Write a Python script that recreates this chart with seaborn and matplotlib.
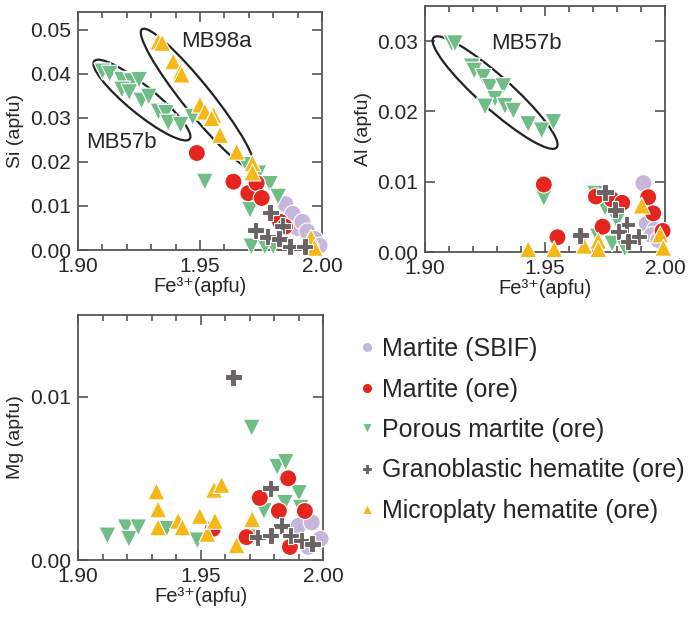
import numpy as np
import pandas as pd
import matplotlib
matplotlib.use("Agg")
import matplotlib.pyplot as plt
from matplotlib.patches import Ellipse
from matplotlib.ticker import MultipleLocator
import seaborn as sns

# ---- data (Fe3+ vs minor element, apfu) ----
kinds = ['Martite (SBIF)', 'Martite (ore)', 'Porous martite (ore)',
         'Granoblastic hematite (ore)', 'Microplaty hematite (ore)']
colors = ['#c6b6da', '#e4261f', '#70bd88', '#6b6363', '#f6b817']
marks = ['o', 'o', 'v', 'P', '^']
draw_order = [0, 2, 1, 4, 3]

# Si panel
si_fe_sbif = [1.985, 1.988, 1.990, 1.992, 1.994, 1.997, 1.999]
si_sbif = [0.0104, 0.0082, 0.0050, 0.0064, 0.0042, 0.0025, 0.0010]
si_fe_ore = [1.9487, 1.9637, 1.9698, 1.9732, 1.9753, 1.9828, 1.9848]
si_ore = [0.0220, 0.0155, 0.0129, 0.0152, 0.0118, 0.0064, 0.0053]
si_fe_por = [1.910, 1.913, 1.918, 1.922, 1.925, 1.918, 1.921, 1.926, 1.929, 1.933,
             1.936, 1.937, 1.942, 1.947, 1.952, 1.969, 1.9739, 1.9787, 1.982,
             1.9705, 1.971, 1.9766, 1.980]
si_por = [0.0405, 0.0400, 0.0386, 0.0383, 0.0386, 0.0364, 0.0358, 0.0339, 0.0348, 0.0314,
          0.0311, 0.0289, 0.0284, 0.0302, 0.0155, 0.0193, 0.0174, 0.0150, 0.0121,
          0.0091, 0.0008, 0.0008, 0.0008]
si_fe_gran = [1.9787, 1.9838, 1.9728, 1.9777, 1.9825, 1.9869, 1.9930]
si_gran = [0.0085, 0.0055, 0.0045, 0.0030, 0.0025, 0.0008, 0.0008]
si_fe_micro = [1.9329, 1.9345, 1.939, 1.9421, 1.9425, 1.950, 1.952, 1.9555, 1.9548,
               1.9582, 1.965, 1.9715, 1.9715, 1.9955, 1.997]
si_micro = [0.0473, 0.0470, 0.0428, 0.0405, 0.0398, 0.0330, 0.0314, 0.0307, 0.0299,
            0.0261, 0.0223, 0.0197, 0.0176, 0.0028, 0.0005]

# Al panel
al_fe_sbif = [1.991, 1.9924, 1.9958, 1.9945, 1.9972]
al_sbif = [0.0098, 0.0040, 0.0032, 0.0024, 0.0017]
al_fe_ore = [1.9495, 1.9552, 1.9712, 1.9740, 1.9778, 1.9822, 1.9930, 1.9951, 1.9990]
al_ore = [0.0096, 0.0021, 0.0079, 0.0036, 0.0075, 0.0070, 0.0078, 0.0055, 0.0030]
al_fe_por = [1.9111, 1.9125, 1.9195, 1.9205, 1.9243, 1.9270, 1.9326, 1.9292, 1.9250,
             1.9333, 1.9368, 1.9430, 1.9486, 1.9535, 1.9495, 1.9708, 1.9750, 1.9800,
             1.9720, 1.9833, 1.9780]
al_por = [0.0297, 0.0297, 0.0264, 0.0258, 0.0249, 0.0235, 0.0236, 0.0218, 0.0207,
          0.0208, 0.0201, 0.0182, 0.0173, 0.0185, 0.0077, 0.0083, 0.0063, 0.0044,
          0.0022, 0.0005, 0.0012]
al_fe_gran = [1.9750, 1.9792, 1.9646, 1.9840, 1.9806, 1.9889, 1.9847]
al_gran = [0.0085, 0.0060, 0.0024, 0.0039, 0.0029, 0.0022, 0.0015]
al_fe_micro = [1.943, 1.9538, 1.9663, 1.9722, 1.9722, 1.9903, 1.998, 1.9993]
al_micro = [0.0004, 0.0004, 0.0009, 0.0016, 0.0004, 0.0066, 0.0025, 0.0006]

# Mg panel
mg_fe_sbif = [1.9900, 1.9954, 1.9990, 1.9940]
mg_sbif = [0.0021, 0.0023, 0.0013, 0.0008]
mg_fe_ore = [1.9742, 1.9858, 1.9820, 1.9926, 1.9688, 1.9865, 1.9550]
mg_ore = [0.0038, 0.0050, 0.0030, 0.0030, 0.0014, 0.0008, 0.0019]
mg_fe_por = [1.9120, 1.9195, 1.9208, 1.9246, 1.9361, 1.9487, 1.9709, 1.9813, 1.9848,
             1.9902, 1.9759, 1.9845, 1.9909, 1.9716]
mg_por = [0.0015, 0.0020, 0.0013, 0.0020, 0.0019, 0.0012, 0.0081, 0.0057, 0.0060,
          0.0041, 0.0030, 0.0035, 0.0032, 0.0014]
mg_fe_gran = [1.9634, 1.9786, 1.9831, 1.9732, 1.9787, 1.9868, 1.9912, 1.9956]
mg_gran = [0.0112, 0.0044, 0.0021, 0.0014, 0.0015, 0.0015, 0.0012, 0.0010]
mg_fe_micro = [1.9320, 1.9327, 1.9327, 1.9409, 1.9426, 1.9497, 1.9528, 1.9559,
               1.9555, 1.9586, 1.9647, 1.9711]
mg_micro = [0.0042, 0.0031, 0.0020, 0.0024, 0.0020, 0.0027, 0.0016, 0.0024,
            0.0043, 0.0046, 0.0009, 0.0025]


def make_frame(fe_lists, val_lists):
    parts = []
    for i in draw_order:
        parts.append(pd.DataFrame({'fe': fe_lists[i], 'val': val_lists[i], 'kind': kinds[i]}))
    return pd.concat(parts, ignore_index=True)


df_si = make_frame([si_fe_sbif, si_fe_ore, si_fe_por, si_fe_gran, si_fe_micro],
                   [si_sbif, si_ore, si_por, si_gran, si_micro])
df_al = make_frame([al_fe_sbif, al_fe_ore, al_fe_por, al_fe_gran, al_fe_micro],
                   [al_sbif, al_ore, al_por, al_gran, al_micro])
df_mg = make_frame([mg_fe_sbif, mg_fe_ore, mg_fe_por, mg_fe_gran, mg_fe_micro],
                   [mg_sbif, mg_ore, mg_por, mg_gran, mg_micro])

sns.set_style("ticks")
plt.rcParams['font.family'] = ['Liberation Sans', 'DejaVu Sans']

palette = dict(zip(kinds, colors))
markers = dict(zip(kinds, marks))

W, H = 692, 619
fig = plt.figure(figsize=(W / 100, H / 100), dpi=100)


def px_axes(x0, y0, x1, y1):
    return fig.add_axes([x0 / W, 1 - y1 / H, (x1 - x0) / W, (y1 - y0) / H])


ax_si = px_axes(78, 12, 322, 250)
ax_al = px_axes(425, 6, 665, 252)
ax_mg = px_axes(78, 315, 323, 560)

panels = [(ax_si, df_si, 'Si (apfu)', 0.054, 0.01),
          (ax_al, df_al, 'Al (apfu)', 0.035, 0.01),
          (ax_mg, df_mg, 'Mg (apfu)', 0.015, 0.01)]

for ax, df, ylab, ytop, ystep in panels:
    sns.scatterplot(data=df, x='fe', y='val', hue='kind', style='kind',
                    palette=palette, markers=markers, hue_order=kinds, style_order=kinds,
                    s=150, edgecolor='white', linewidth=0.8, clip_on=False,
                    legend=(ax is ax_mg), ax=ax, zorder=3)
    ax.set_xlim(1.90, 2.00)
    ax.set_ylim(0, ytop)
    ax.xaxis.set_major_locator(MultipleLocator(0.05))
    ax.xaxis.set_minor_locator(MultipleLocator(0.01))
    ax.yaxis.set_major_locator(MultipleLocator(ystep))
    ax.xaxis.set_major_formatter(matplotlib.ticker.FormatStrFormatter('%.2f'))
    ax.yaxis.set_major_formatter(matplotlib.ticker.FormatStrFormatter('%.2f'))
    ax.tick_params(which='both', direction='in', top=True, right=True,
                   labelsize=15, color='#555555', width=1.2, pad=5)
    ax.tick_params(which='major', length=7)
    ax.tick_params(which='minor', length=4)
    for sp in ax.spines.values():
        sp.set_color('#555555')
        sp.set_linewidth(1.3)
    ax.set_xlabel('Fe\u00b3\u207a(apfu)', fontsize=14.5, labelpad=1)
    ax.set_ylabel(ylab, fontsize=14, labelpad=4)

# circled sample groups
ax_si.add_patch(Ellipse((0.262, 0.63), 0.51, 0.115, angle=-40, transform=ax_si.transAxes,
                        fill=False, edgecolor='#222222', lw=1.6))
ax_si.add_patch(Ellipse((0.49, 0.636), 0.74, 0.12, angle=-52, transform=ax_si.transAxes,
                        fill=False, edgecolor='#222222', lw=1.6))
ax_si.text(0.568, 0.875, 'MB98a', transform=ax_si.transAxes, fontsize=16,
           ha='center', va='center')
ax_si.text(0.179, 0.452, 'MB57b', transform=ax_si.transAxes, fontsize=16,
           ha='center', va='center')
ax_al.add_patch(Ellipse((0.292, 0.648), 0.68, 0.135, angle=-41, transform=ax_al.transAxes,
                        fill=False, edgecolor='#222222', lw=1.6))
ax_al.text(0.424, 0.846, 'MB57b', transform=ax_al.transAxes, fontsize=16,
           ha='center', va='center')

# legend in the empty lower-right quarter
handles, labels = ax_mg.get_legend_handles_labels()
ax_mg.get_legend().remove()
fig.legend(handles, labels, loc='upper left', bbox_to_anchor=(344 / W, 1 - 327 / H),
           frameon=False, fontsize=18, markerscale=0.6, handletextpad=0.1,
           labelspacing=0.66, borderaxespad=0, handlelength=1.0)

fig.savefig('out.png', dpi=100)
